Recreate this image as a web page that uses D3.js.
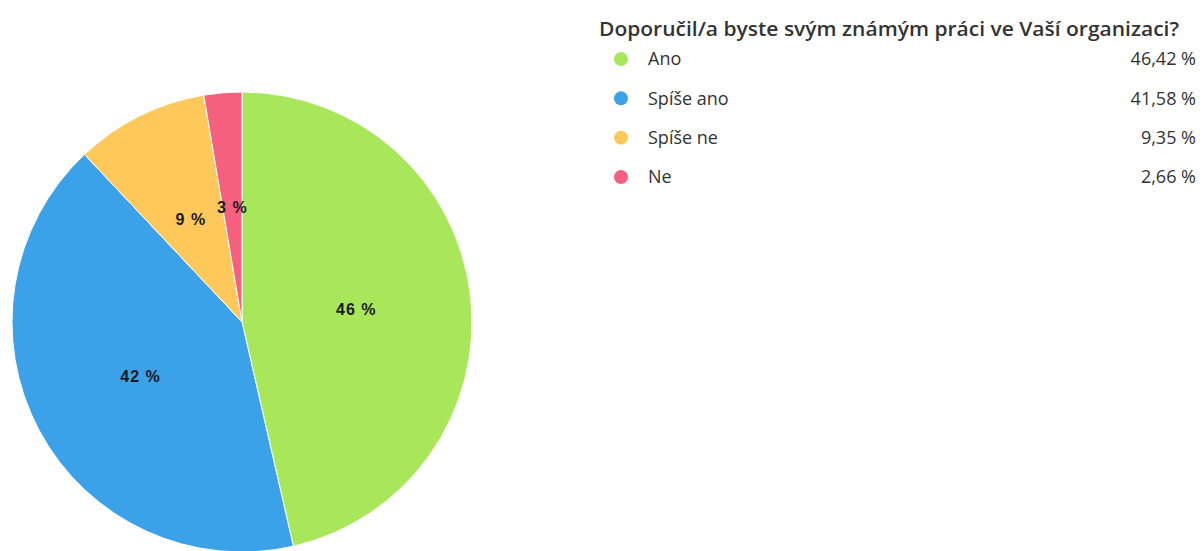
<!DOCTYPE html>
<html>
<head>
<meta charset="utf-8">
<script src="https://cdn.jsdelivr.net/npm/d3@7"></script>
<style>
	body { margin: 0; background: #fff; }
	svg { display: block; }
</style>
</head>
<body>
<svg id="chart" width="1203" height="551"></svg>
<script>
// data
const title = "Doporučil/a byste svým známým práci ve Vaší organizaci?";
const categories = ["Ano", "Spíše ano", "Spíše ne", "Ne"];
const values = [46.42, 41.58, 9.35, 2.66];
const colors = ["#a8e65a", "#3ba1e8", "#ffc85a", "#f5607f"];

const svg = d3.select("#chart");

const cx = 242, cy = 322, radius = 230;

const pieData = d3.pie()
	.sort(null)
	.value(d => d.value)(categories.map((c, i) => ({ name: c, value: values[i], color: colors[i] })));

const arc = d3.arc().innerRadius(0).outerRadius(radius);
const labelArc = d3.arc().innerRadius(radius / 2).outerRadius(radius / 2);

const pieG = svg.append("g").attr("transform", `translate(${cx},${cy})`);

pieG.selectAll("path")
	.data(pieData)
	.enter()
	.append("path")
	.attr("d", arc)
	.attr("fill", d => d.data.color)
	.attr("stroke", "#fff")
	.attr("stroke-width", 1);

pieG.selectAll("text")
	.data(pieData)
	.enter()
	.append("text")
	.attr("transform", d => `translate(${labelArc.centroid(d)})`)
	.attr("text-anchor", "middle")
	.attr("dy", "0.35em")
	.attr("font-family", "Liberation Sans, Arial, sans-serif")
	.attr("font-weight", "bold")
	.attr("font-size", "16px")
	.attr("letter-spacing", "1px")
	.attr("fill", "#1a1a1a")
	.text(d => Math.round(d.data.value) + " %");

// legend
const legend = svg.append("g");

legend.append("text")
	.attr("x", 599)
	.attr("y", 36)
	.attr("font-family", "Open Sans, sans-serif")
	.attr("font-weight", 600)
	.attr("font-size", "20px")
	.attr("textLength", 580)
	.attr("lengthAdjust", "spacingAndGlyphs")
	.attr("fill", "#333")
	.text(title);

const rowY = d3.scalePoint().domain(categories).range([59, 177]);

const rows = legend.selectAll("g.row")
	.data(pieData)
	.enter()
	.append("g")
	.attr("class", "row")
	.attr("transform", d => `translate(0,${rowY(d.data.name)})`);

rows.append("circle")
	.attr("cx", 621)
	.attr("cy", 0)
	.attr("r", 7)
	.attr("fill", d => d.data.color);

rows.append("text")
	.attr("x", 648)
	.attr("dy", "0.36em")
	.attr("font-family", "Open Sans, sans-serif")
	.attr("font-size", "18px")
	.attr("fill", "#333")
	.text(d => d.data.name);

rows.append("text")
	.attr("x", 1196)
	.attr("dy", "0.36em")
	.attr("text-anchor", "end")
	.attr("font-family", "Open Sans, sans-serif")
	.attr("font-size", "18px")
	.attr("fill", "#333")
	.text(d => d.data.value.toFixed(2).replace(".", ",") + " %");
</script>
</body>
</html>
